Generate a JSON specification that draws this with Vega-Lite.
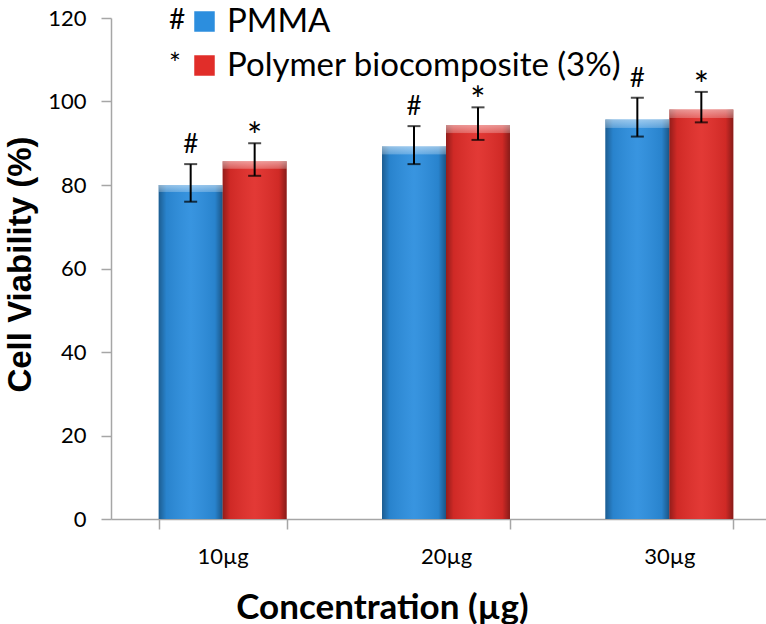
{
  "$schema": "https://vega.github.io/schema/vega-lite/v6.json",
  "autosize": {"type": "none"},
  "padding": {"left": 111, "top": 18, "right": 0, "bottom": 105},
  "width": 655,
  "height": 501,
  "background": "white",
  "config": {
    "view": {"stroke": null},
    "axis": {"grid": false}
  },
  "data": {
    "values": [
      {"conc": "10µg", "series": "PMMA", "sym": "#", "mean": 80.0, "lo": 76.0, "hi": 85.0},
      {"conc": "10µg", "series": "Polymer biocomposite (3%)", "sym": "*", "mean": 85.7, "lo": 82.2, "hi": 90.0},
      {"conc": "20µg", "series": "PMMA", "sym": "#", "mean": 89.2, "lo": 85.0, "hi": 94.1},
      {"conc": "20µg", "series": "Polymer biocomposite (3%)", "sym": "*", "mean": 94.4, "lo": 90.8, "hi": 98.6},
      {"conc": "30µg", "series": "PMMA", "sym": "#", "mean": 95.7, "lo": 91.6, "hi": 100.9},
      {"conc": "30µg", "series": "Polymer biocomposite (3%)", "sym": "*", "mean": 98.1, "lo": 95.0, "hi": 102.3}
    ]
  },
  "encoding": {
    "x": {
      "field": "conc", "type": "nominal",
      "scale": {"range": [0, 670], "paddingInner": 0.427, "paddingOuter": 0.2135},
      "axis": {
        "labelAngle": 0, "labelFont": "Lato", "labelFontSize": 22, "labelColor": "#000000",
        "labelPadding": 17, "domainColor": "#A6A6A6", "domainWidth": 1.5, "tickColor": "#A6A6A6", "tickWidth": 1.5,
        "tickSize": 10, "tickBand": "extent",
        "title": "Concentration (µg)", "titleFont": "Lato", "titleFontWeight": "bold", "titleFontSize": 35,
        "titleColor": "#000000", "titleX": 271, "titleY": 88, "titleBaseline": "middle", "titleAlign": "center"
      }
    },
    "xOffset": {"field": "series", "type": "nominal", "scale": {"domain": ["PMMA", "Polymer biocomposite (3%)"], "paddingInner": 0, "paddingOuter": 0}}
  },
  "layer": [
    {
      "mark": {"type": "bar"},
      "encoding": {
        "y": {
          "field": "mean", "type": "quantitative",
          "scale": {"domain": [0, 120], "nice": false},
          "axis": {
            "values": [0, 20, 40, 60, 80, 100, 120],
            "labelFont": "Lato", "labelFontSize": 22, "labelColor": "#000000", "labelPadding": 15,
            "domainColor": "#A6A6A6", "domainWidth": 1.5, "tickColor": "#A6A6A6", "tickWidth": 1.5, "tickSize": 10,
            "title": "Cell Viability (%)", "titleFont": "Liberation Sans", "titleFontWeight": "bold",
            "titleFontSize": 33, "titleColor": "#000000", "titleAngle": 270,
            "titleX": -91, "titleY": 246, "titleBaseline": "middle", "titleAlign": "center"
          }
        },
        "color": {
          "field": "series", "type": "nominal",
          "scale": {"domain": ["PMMA", "Polymer biocomposite (3%)"], "range": ["#2C8EDE", "#E12D29"]},
          "legend": {
            "orient": "none", "legendX": 77, "legendY": -13, "title": null, "padding": 0,
            "symbolType": "square", "symbolSize": 420, "symbolStrokeWidth": 0, "labelLimit": 0,
            "labelFont": "Lato", "labelFontSize": 33, "labelColor": "#000000", "labelOffset": 6, "rowPadding": 10
          }
        }
      }
    },
    {
      "mark": {
        "type": "bar",
        "color": {
          "gradient": "linear", "x1": 0, "y1": 0, "x2": 1, "y2": 0,
          "stops": [
            {"offset": 0, "color": "rgba(0,0,0,0.35)"},
            {"offset": 0.12, "color": "rgba(0,0,0,0.08)"},
            {"offset": 0.5, "color": "rgba(255,255,255,0.06)"},
            {"offset": 0.88, "color": "rgba(0,0,0,0.08)"},
            {"offset": 1, "color": "rgba(0,0,0,0.4)"}
          ]
        }
      },
      "encoding": {"y": {"field": "mean", "type": "quantitative"}}
    },
    {
      "mark": {
        "type": "bar",
        "color": {
          "gradient": "linear", "x1": 0, "y1": 0, "x2": 0, "y2": 1,
          "stops": [
            {"offset": 0, "color": "rgba(255,255,255,0.5)"},
            {"offset": 0.02, "color": "rgba(255,255,255,0.25)"},
            {"offset": 0.022, "color": "rgba(255,255,255,0)"},
            {"offset": 1, "color": "rgba(255,255,255,0)"}
          ]
        }
      },
      "encoding": {"y": {"field": "mean", "type": "quantitative"}}
    },
    {
      "mark": {"type": "rule", "color": "#000000", "strokeWidth": 2},
      "encoding": {
        "y": {"field": "lo", "type": "quantitative"},
        "y2": {"field": "hi"}
      }
    },
    {
      "mark": {"type": "tick", "color": "#000000", "thickness": 2, "size": 13},
      "encoding": {"y": {"field": "lo", "type": "quantitative"}}
    },
    {
      "mark": {"type": "tick", "color": "#000000", "thickness": 2, "size": 13},
      "encoding": {"y": {"field": "hi", "type": "quantitative"}}
    },
    {
      "transform": [{"filter": "datum.series == 'PMMA'"}],
      "mark": {"type": "text", "font": "Lato", "fontSize": 26, "baseline": "alphabetic", "dy": -11},
      "encoding": {
        "y": {"field": "hi", "type": "quantitative"},
        "text": {"field": "sym"},
        "color": {
          "field": "sym", "type": "nominal",
          "scale": {"domain": ["#", "*"], "range": ["#000000", "#000000"]},
          "legend": {
            "orient": "none", "legendX": 30, "legendY": -11, "title": null, "padding": 0,
            "symbolSize": 0, "symbolOpacity": 0, "symbolStrokeWidth": 0, "labelOffset": 0,
            "labelFont": "Lato", "labelFontSize": 28, "labelColor": "#000000", "rowPadding": 17
          }
        }
      }
    },
    {
      "transform": [{"filter": "datum.series != 'PMMA'"}],
      "mark": {"type": "text", "font": "Lato", "fontSize": 36, "baseline": "alphabetic", "dy": 6},
      "encoding": {
        "y": {"field": "hi", "type": "quantitative"},
        "text": {"field": "sym"},
        "color": {
          "field": "sym", "type": "nominal",
          "scale": {"domain": ["#", "*"], "range": ["#000000", "#000000"]},
          "legend": null
        }
      }
    }
  ],
  "resolve": {"scale": {"color": "independent"}, "legend": {"color": "independent"}}
}
